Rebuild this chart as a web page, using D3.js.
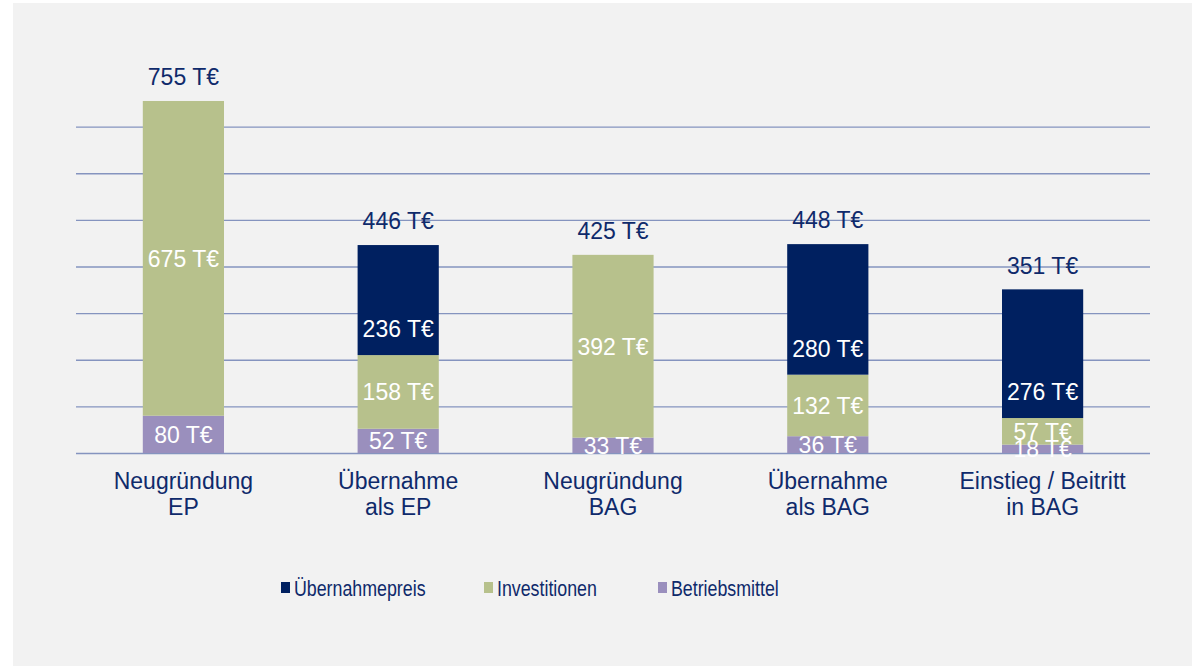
<!DOCTYPE html>
<html>
  <head>
    <script src="https://d3js.org/d3.v7.min.js"></script>
    <title>Kosten Praxisgründung</title>
    <style>
      body { margin: 0; background: #ffffff; }
      text { font-family: "Liberation Sans", Arial, sans-serif; }
    </style>
  </head>
  <body>
  <svg width="1194" height="667"></svg>
  <script>

      // data
      var categories = [['Neugründung', 'EP'], ['Übernahme', 'als EP'], ['Neugründung', 'BAG'], ['Übernahme', 'als BAG'], ['Einstieg / Beitritt', 'in BAG']];
      var seriesNames = ['Betriebsmittel', 'Investitionen', 'Übernahmepreis'];
      var betriebsmittel = [80, 52, 33, 36, 18];
      var investitionen = [675, 158, 392, 132, 57];
      var uebernahmepreis = [0, 236, 0, 280, 276];
      var gridTicks = [0, 100, 200, 300, 400, 500, 600, 700];
      var legendOrder = ['Übernahmepreis', 'Investitionen', 'Betriebsmittel'];

      var colors = {
        'Betriebsmittel': '#9a8fbd',
        'Investitionen': '#b7c18c',
        'Übernahmepreis': '#002060'
      };
      var textColor = '#0f2a6b';

      var svg = d3.select('svg');
      var w = 1194;
      var h = 667;
      var margin = { left: 76, right: 44, top: 80, bottom: 214 };
      var innerWidth = w - margin.left - margin.right;
      var innerHeight = h - margin.top - margin.bottom;

      // panel background
      svg.append('rect')
        .attr('x', 13).attr('y', 3)
        .attr('width', 1179).attr('height', 663)
        .attr('fill', '#f2f2f2');

      var table = categories.map((c, i) => ({
        key: i,
        'Betriebsmittel': betriebsmittel[i],
        'Investitionen': investitionen[i],
        'Übernahmepreis': uebernahmepreis[i]
      }));

      var stack = d3.stack().keys(seriesNames)(table);

      var xScale = d3.scaleBand()
        .domain(table.map(d => d.key))
        .range([0, innerWidth])
        .padding(0);

      var barW = xScale.bandwidth() * 0.378;

      var yScale = d3.scaleLinear()
        .domain([0, 800])
        .range([innerHeight, 0]);

      var plot = svg.append('g')
        .attr('transform', `translate (${margin.left}, ${margin.top})`);

      // gridlines
      var grid = plot.append('g')
        .call(d3.axisLeft(yScale).tickValues(gridTicks).tickSize(-innerWidth).tickFormat(''));
      grid.select('.domain').remove();
      grid.selectAll('.tick line')
        .attr('stroke', '#8594bf')
        .attr('stroke-width', 1.3);

      // bars
      var layers = plot.selectAll('.layer')
        .data(stack)
        .enter().append('g')
        .attr('class', 'layer')
        .attr('fill', d => colors[d.key]);

      layers.selectAll('rect')
        .data(d => d.filter(s => s[1] - s[0] > 0))
        .enter().append('rect')
        .attr('x', d => xScale(d.data.key) + (xScale.bandwidth() - barW) / 2)
        .attr('y', d => yScale(d[1]))
        .attr('width', barW)
        .attr('height', d => yScale(d[0]) - yScale(d[1]));

      // segment labels
      stack.forEach(function(layer) {
        plot.append('g').selectAll('text')
          .data(layer.filter(s => s[1] - s[0] > 0))
          .enter().append('text')
          .attr('x', d => xScale(d.data.key) + xScale.bandwidth() / 2)
          .attr('y', function(d) {
            if (layer.key === 'Übernahmepreis') return yScale(d[0]) - 26;
            return (yScale(d[0]) + yScale(d[1])) / 2;
          })
          .attr('dy', '0.36em')
          .attr('text-anchor', 'middle')
          .attr('fill', '#ffffff')
          .style('font-size', '23px')
          .text(d => (d[1] - d[0]) + ' T€');
      });

      // totals
      plot.append('g').selectAll('text')
        .data(table)
        .enter().append('text')
        .attr('x', d => xScale(d.key) + xScale.bandwidth() / 2)
        .attr('y', d => yScale(d3.sum(seriesNames, k => d[k])) - 24)
        .attr('dy', '0.36em')
        .attr('text-anchor', 'middle')
        .attr('fill', textColor)
        .style('font-size', '23px')
        .text(d => d3.sum(seriesNames, k => d[k]) + ' T€');

      // category labels
      var cat = plot.append('g').selectAll('text')
        .data(table)
        .enter().append('text')
        .attr('x', d => xScale(d.key) + xScale.bandwidth() / 2)
        .attr('y', innerHeight + 28)
        .attr('dy', '0.36em')
        .attr('text-anchor', 'middle')
        .attr('fill', textColor)
        .style('font-size', '23px');
      cat.append('tspan')
        .attr('x', d => xScale(d.key) + xScale.bandwidth() / 2)
        .text(d => categories[d.key][0]);
      cat.append('tspan')
        .attr('x', d => xScale(d.key) + xScale.bandwidth() / 2)
        .attr('dy', 26)
        .text(d => categories[d.key][1]);

      // legend
      var legendX = [281, 484, 658];
      var legend = svg.append('g').selectAll('g')
        .data(legendOrder)
        .enter().append('g')
        .attr('transform', (d, i) => `translate (${legendX[i]}, 588)`);
      legend.append('rect')
        .attr('x', 0).attr('y', -6)
        .attr('width', 9).attr('height', 11)
        .attr('fill', d => colors[d]);
      legend.append('text')
        .attr('x', 16)
        .attr('dy', '0.36em')
        .attr('fill', textColor)
        .style('font-size', '22px')
        .attr('transform', 'scale(0.81,1)')
        .text(d => d);

  </script>
  </body>
</html>
